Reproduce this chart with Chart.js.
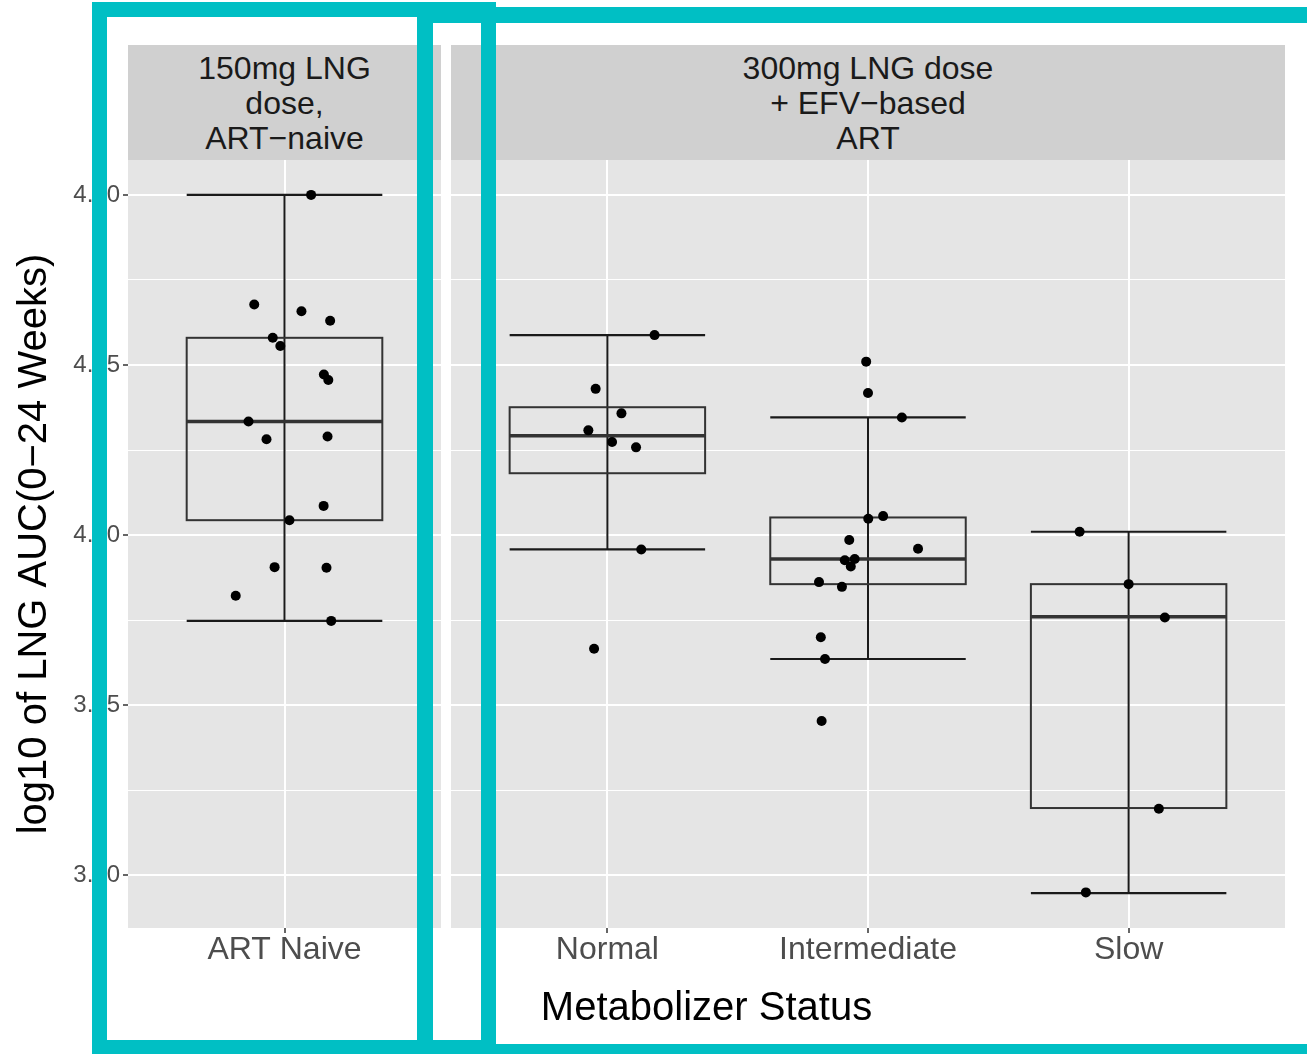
<!DOCTYPE html>
<html>
<head>
<meta charset="utf-8">
<title>LNG AUC by metabolizer status</title>
<script src="https://cdn.jsdelivr.net/npm/chart.js@4.4.0/dist/chart.umd.min.js"></script>
<style>
html,body{margin:0;padding:0;background:#ffffff;}
#wrap{position:relative;width:1307px;height:1054px;overflow:hidden;background:#ffffff;font-family:"Liberation Sans",Arial,sans-serif;}
#wrap canvas{position:absolute;top:0;}
.strip{position:absolute;top:45px;height:115px;padding-top:2px;box-sizing:border-box;background:#D0D0D0;color:#1A1A1A;font-size:32px;line-height:35px;display:flex;align-items:center;justify-content:center;text-align:center;white-space:pre-line;}
#xtitle{position:absolute;left:128px;width:1157px;top:986px;text-align:center;font-size:40px;line-height:40px;color:#000000;}
.hl{position:absolute;box-sizing:border-box;border-style:solid;border-color:#00BFC4;}
</style>
</head>
<body>
<div id="wrap">
  <canvas id="c1" width="441" height="1054" style="left:0px"></canvas>
  <canvas id="c2" width="856" height="1054" style="left:451px"></canvas>
  <div class="strip" id="s1" style="left:128px;width:313px"></div>
  <div class="strip" id="s2" style="left:451px;width:834px"></div>
  <div id="xtitle"></div>
  <div class="hl" style="left:92px;top:2px;width:404px;height:1053px;border-width:15.5px"></div>
  <div class="hl" style="left:417px;top:7px;width:1000px;height:1053px;border-width:16px"></div>
</div>
<script>
// ---------------- data ----------------
const categories = ['ART Naive', 'Normal', 'Intermediate', 'Slow'];
const panelStrips = ['150mg LNG\ndose,\nART\u2212naive', '300mg LNG dose\n+ EFV\u2212based\nART'];
const panelCategories = [[0], [1, 2, 3]];

const artNaiveValues = [4.500, 4.339, 4.329, 4.315, 4.290, 4.278, 4.236, 4.228, 4.167, 4.141, 4.145, 4.043, 4.022, 3.953, 3.952, 3.911, 3.874];
const artNaiveJitter = [0.102, -0.116, 0.065, 0.175, -0.045, -0.016, 0.151, 0.168, -0.138, -0.069, 0.165, 0.150, 0.019, -0.038, 0.161, -0.187, 0.179];

const normalValues = [4.294, 4.215, 4.179, 4.154, 4.137, 4.129, 3.979, 3.833];
const normalJitter = [0.181, -0.045, 0.054, -0.073, 0.018, 0.110, 0.130, -0.051];

const intermediateValues = [4.255, 4.209, 4.173, 4.024, 4.028, 3.993, 3.980, 3.963, 3.965, 3.954, 3.931, 3.924, 3.850, 3.818, 3.727];
const intermediateJitter = [-0.007, 0.000, 0.130, 0.001, 0.058, -0.072, 0.192, -0.089, -0.051, -0.066, -0.188, -0.100, -0.181, -0.165, -0.178];

const slowValues = [4.005, 3.928, 3.879, 3.598, 3.475];
const slowJitter = [-0.188, 0.000, 0.139, 0.116, -0.164];

const boxLower  = [3.874, 3.979, 3.818, 3.474];
const boxQ1     = [4.022, 4.091, 3.928, 3.599];
const boxMedian = [4.167, 4.146, 3.965, 3.880];
const boxQ3     = [4.290, 4.188, 4.026, 3.928];
const boxUpper  = [4.500, 4.294, 4.173, 4.005];

const yTicks = [3.50, 3.75, 4.00, 4.25, 4.50];
const yTitle = 'log10 of LNG AUC(0\u221224 Weeks)';
const xTitle = 'Metabolizer Status';

// ---------------- build ----------------
const FONT = '"Liberation Sans", Arial, sans-serif';
Chart.defaults.font.family = FONT;

const groupValues = [artNaiveValues, normalValues, intermediateValues, slowValues];
const groupJitter = [artNaiveJitter, normalJitter, intermediateJitter, slowJitter];

const allVals = groupValues.flat().concat(boxLower, boxUpper);
const lo = Math.min(...allVals), hi = Math.max(...allVals);
const yMin = lo - (hi - lo) * 0.05, yMax = hi + (hi - lo) * 0.05;

// major ticks plus minor (mid) grid positions
const yGrid = [];
yTicks.forEach((t, i) => { yGrid.push(t); if (i < yTicks.length - 1) yGrid.push((t + yTicks[i + 1]) / 2); });
const isMajor = v => yTicks.some(t => Math.abs(t - v) < 1e-9);

document.getElementById('s1').textContent = panelStrips[0];
document.getElementById('s2').textContent = panelStrips[1];
document.getElementById('xtitle').textContent = xTitle;

const panelBg = {
  id: 'panelBg',
  beforeDraw(ch) {
    const { ctx, chartArea: a } = ch;
    ctx.save();
    ctx.fillStyle = '#E5E5E5';
    ctx.fillRect(a.left, a.top, a.right - a.left, a.bottom - a.top);
    ctx.restore();
  }
};

function boxPlugin(cats) {
  return {
    id: 'boxes',
    beforeDatasetsDraw(ch) {
      const { ctx } = ch;
      const x = ch.scales.x, y = ch.scales.y;
      const seg = (x1, y1, x2, y2) => { ctx.beginPath(); ctx.moveTo(x1, y1); ctx.lineTo(x2, y2); ctx.stroke(); };
      ctx.save();
      cats.forEach((g, i) => {
        const c = i + 1, hw = 0.375;
        const xl = x.getPixelForValue(c - hw), xr = x.getPixelForValue(c + hw), xc = x.getPixelForValue(c);
        const yl = y.getPixelForValue(boxLower[g]), yu = y.getPixelForValue(boxUpper[g]);
        const y1 = y.getPixelForValue(boxQ1[g]), y3 = y.getPixelForValue(boxQ3[g]), ym = y.getPixelForValue(boxMedian[g]);
        // error bar (whiskers)
        ctx.strokeStyle = '#1A1A1A';
        ctx.lineWidth = 2;
        seg(xc, yl, xc, yu);
        ctx.lineWidth = 2.2;
        seg(xl, yl, xr, yl);
        seg(xl, yu, xr, yu);
        // box
        ctx.strokeStyle = '#333333';
        ctx.lineWidth = 2;
        ctx.strokeRect(xl, y3, xr - xl, y1 - y3);
        // median
        ctx.lineWidth = 3.5;
        seg(xl, ym, xr, ym);
      });
      ctx.restore();
    }
  };
}

function makeChart(id, cats, isLeft) {
  const n = cats.length;
  const points = [];
  cats.forEach((g, i) => {
    groupValues[g].forEach((v, k) => points.push({ x: i + 1 + groupJitter[g][k], y: v }));
  });
  return new Chart(document.getElementById(id), {
    type: 'scatter',
    data: {
      datasets: [{
        data: points,
        backgroundColor: '#000000',
        borderWidth: 0,
        pointRadius: 5,
        pointHoverRadius: 5
      }]
    },
    options: {
      responsive: false,
      animation: false,
      devicePixelRatio: 1,
      layout: { autoPadding: false, padding: { top: 160, left: 0, right: isLeft ? 0 : 22, bottom: 0 } },
      plugins: { legend: { display: false }, tooltip: { enabled: false } },
      scales: {
        x: {
          type: 'linear',
          min: 0.4,
          max: n + 0.6,
          afterBuildTicks: a => { a.ticks = cats.map((g, i) => ({ value: i + 1 })); },
          afterFit: a => { a.height = 126; },
          ticks: {
            autoSkip: false,
            maxRotation: 0,
            minRotation: 0,
            padding: -2,
            color: '#4D4D4D',
            font: { size: 32, family: FONT },
            callback: v => categories[cats[Math.round(v) - 1]]
          },
          grid: { color: '#FFFFFF', lineWidth: 2, tickColor: '#333333', tickLength: 5, tickWidth: 1.5 },
          border: { display: false }
        },
        y: {
          type: 'linear',
          min: yMin,
          max: yMax,
          afterBuildTicks: a => { a.ticks = yGrid.map(v => ({ value: v })); },
          afterFit: a => { a.width = isLeft ? 128 : 0; },
          ticks: {
            display: isLeft,
            autoSkip: false,
            padding: 3,
            color: '#4D4D4D',
            font: { size: 24, family: FONT },
            callback: v => isMajor(v) ? v.toFixed(2) : ''
          },
          grid: {
            color: '#FFFFFF',
            lineWidth: c => (c.tick && !isMajor(c.tick.value)) ? 1 : 2,
            drawTicks: isLeft,
            tickLength: 5,
            tickWidth: 1.5,
            tickColor: c => (c.tick && !isMajor(c.tick.value)) ? 'rgba(0,0,0,0)' : '#333333'
          },
          border: { display: false },
          title: {
            display: isLeft,
            text: yTitle,
            color: '#000000',
            font: { size: 40, family: FONT },
            padding: { top: 11, bottom: 0 }
          }
        }
      }
    },
    plugins: [panelBg, boxPlugin(cats)]
  });
}

makeChart('c1', panelCategories[0], true);
makeChart('c2', panelCategories[1], false);
</script>
</body>
</html>
